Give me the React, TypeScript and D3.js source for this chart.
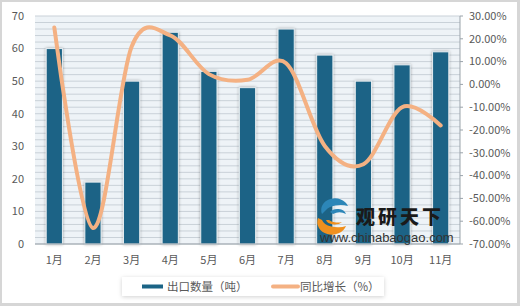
import React from "react";
import * as d3 from "d3";

const months = ["1月", "2月", "3月", "4月", "5月", "6月", "7月", "8月", "9月", "10月", "11月"];
const exportQty = [60, 19, 50, 65, 53, 48, 66, 58, 50, 55, 59];
const yoyGrowth = [25, -63, 16.5, 21.5, 4.5, 2, 9.3, -27, -35, -10, -18];
const leftTicks = [0, 10, 20, 30, 40, 50, 60, 70];
const rightTicks = [-70, -60, -50, -40, -30, -20, -10, 0, 10, 20, 30];
const seriesNames = ["出口数量（吨）", "同比增长（%）"];

const W = 520;
const H = 306;
const L = 35, R = 460, T = 16, B = 244;
const BAR = "#1b6486";
const LINE = "#f4b183";
const TXT = "#595959";
const FONT = "'Noto Sans CJK SC', 'Noto Sans', sans-serif";

export default function App() {
  const x = d3.scaleBand<string>().domain(months).range([L, R]).paddingInner(0.58).paddingOuter(0.29);
  const y1 = d3.scaleLinear().domain([0, 70]).range([B, T]);
  const y2 = d3.scaleLinear().domain([-70, 30]).range([B, T]);
  const minor = d3.range(0, 71, 2);
  const line = d3
    .line<number>()
    .x((_, i) => (x(months[i]) as number) + x.bandwidth() / 2)
    .y((d) => y2(d))
    .curve(d3.curveCardinal.tension(0));

  return (
    <svg width={W} height={H} style={{ position: "absolute", left: 0, top: 0, fontFamily: FONT }}>
      <defs>
        <filter id="sh" x="-50%" y="-10%" width="200%" height="130%">
          <feDropShadow dx="0" dy="0" stdDeviation="1.6" floodColor="#000" floodOpacity="0.35" />
        </filter>
        <filter id="lsh" x="-10%" y="-40%" width="120%" height="200%">
          <feDropShadow dx="0" dy="1" stdDeviation="2" floodColor="#000" floodOpacity="0.18" />
        </filter>
      </defs>
      <rect x={0} y={0} width={W} height={H} fill="#d6d6d6" />
      <rect x={2} y={2} width={W - 5} height={H - 5} fill="#ffffff" />
      <rect x={L} y={T} width={R - L} height={B - T} fill="#eef3f7" />
      {minor.map((v) => (
        <line key={v} x1={L} x2={R} y1={y1(v)} y2={y1(v)} stroke="#c9d1d8" strokeWidth={1} />
      ))}
      {exportQty.map((v, i) => (
        <rect
          key={months[i]}
          x={x(months[i])}
          y={y1(v)}
          width={x.bandwidth()}
          height={B - y1(v)}
          fill={BAR}
          stroke="#e6ecf0"
          strokeWidth={1}
          filter="url(#sh)"
        />
      ))}
      <line x1={L} x2={R} y1={B} y2={B} stroke="#9aa3aa" strokeWidth={1} />
      <line x1={R} x2={R} y1={T} y2={B} stroke="#9aa3aa" strokeWidth={1} />
      {rightTicks.map((t) => (
        <line key={t} x1={R} x2={R + 3} y1={y2(t)} y2={y2(t)} stroke="#9aa3aa" />
      ))}
      {leftTicks.map((t) => (
        <text key={t} x={24} y={y1(t)} dy="0.35em" textAnchor="end" fontSize={11} fill={TXT}>
          {t}
        </text>
      ))}
      {rightTicks.map((t) => (
        <text key={t} x={469} y={y2(t)} dy="0.35em" textAnchor="start" fontSize={11} fill={TXT}>
          {`${t.toFixed(2)}%`}
        </text>
      ))}
      {months.map((m) => (
        <text key={m} x={(x(m) as number) + x.bandwidth() / 2} y={260} dy="0.35em" textAnchor="middle" fontSize={11} fill={TXT}>
          {m}
        </text>
      ))}
      <g>
        <path d="M 322 214 A 13 11 0 0 1 348 206 A 16 8 0 0 0 326 210 Z" fill="#2c86b8" />
        <path d="M 330 212 A 9 7 0 0 1 346 214 A 10 6 0 0 0 333 214 Z" fill="#2c86b8" />
        <path d="M 318 218 A 14 12 0 0 0 346 226 A 16 9 0 0 1 322 220 Z" fill="#f0901e" />
        <path d="M 326 220 A 9 6 0 0 0 342 222 A 10 5 0 0 1 329 220 Z" fill="#f0901e" />
        <text x={356} y={224} fontSize={19} fontWeight={900} fill="#1a1a1a" letterSpacing={3}>
          观研天下
        </text>
        <text x={320} y={242} fontSize={13} fill="#333" fontFamily="'Liberation Sans', Arial, sans-serif">
          www.chinabaogao.com
        </text>
      </g>
      <path d={line(yoyGrowth) || ""} fill="none" stroke={LINE} strokeWidth={4} strokeLinecap="round" />
      <rect x={122} y={277} width={262} height={19} fill="#fff" filter="url(#lsh)" />
      <line x1={142} x2={163} y1={286.5} y2={286.5} stroke={BAR} strokeWidth={4} />
      <text x={167} y={286.5} dy="0.35em" fontSize={11.5} fill={TXT}>
        {seriesNames[0]}
      </text>
      <line x1={273} x2={298} y1={286.5} y2={286.5} stroke={LINE} strokeWidth={4} strokeLinecap="round" />
      <text x={300} y={286.5} dy="0.35em" fontSize={11.5} fill={TXT}>
        {seriesNames[1]}
      </text>
    </svg>
  );
}
